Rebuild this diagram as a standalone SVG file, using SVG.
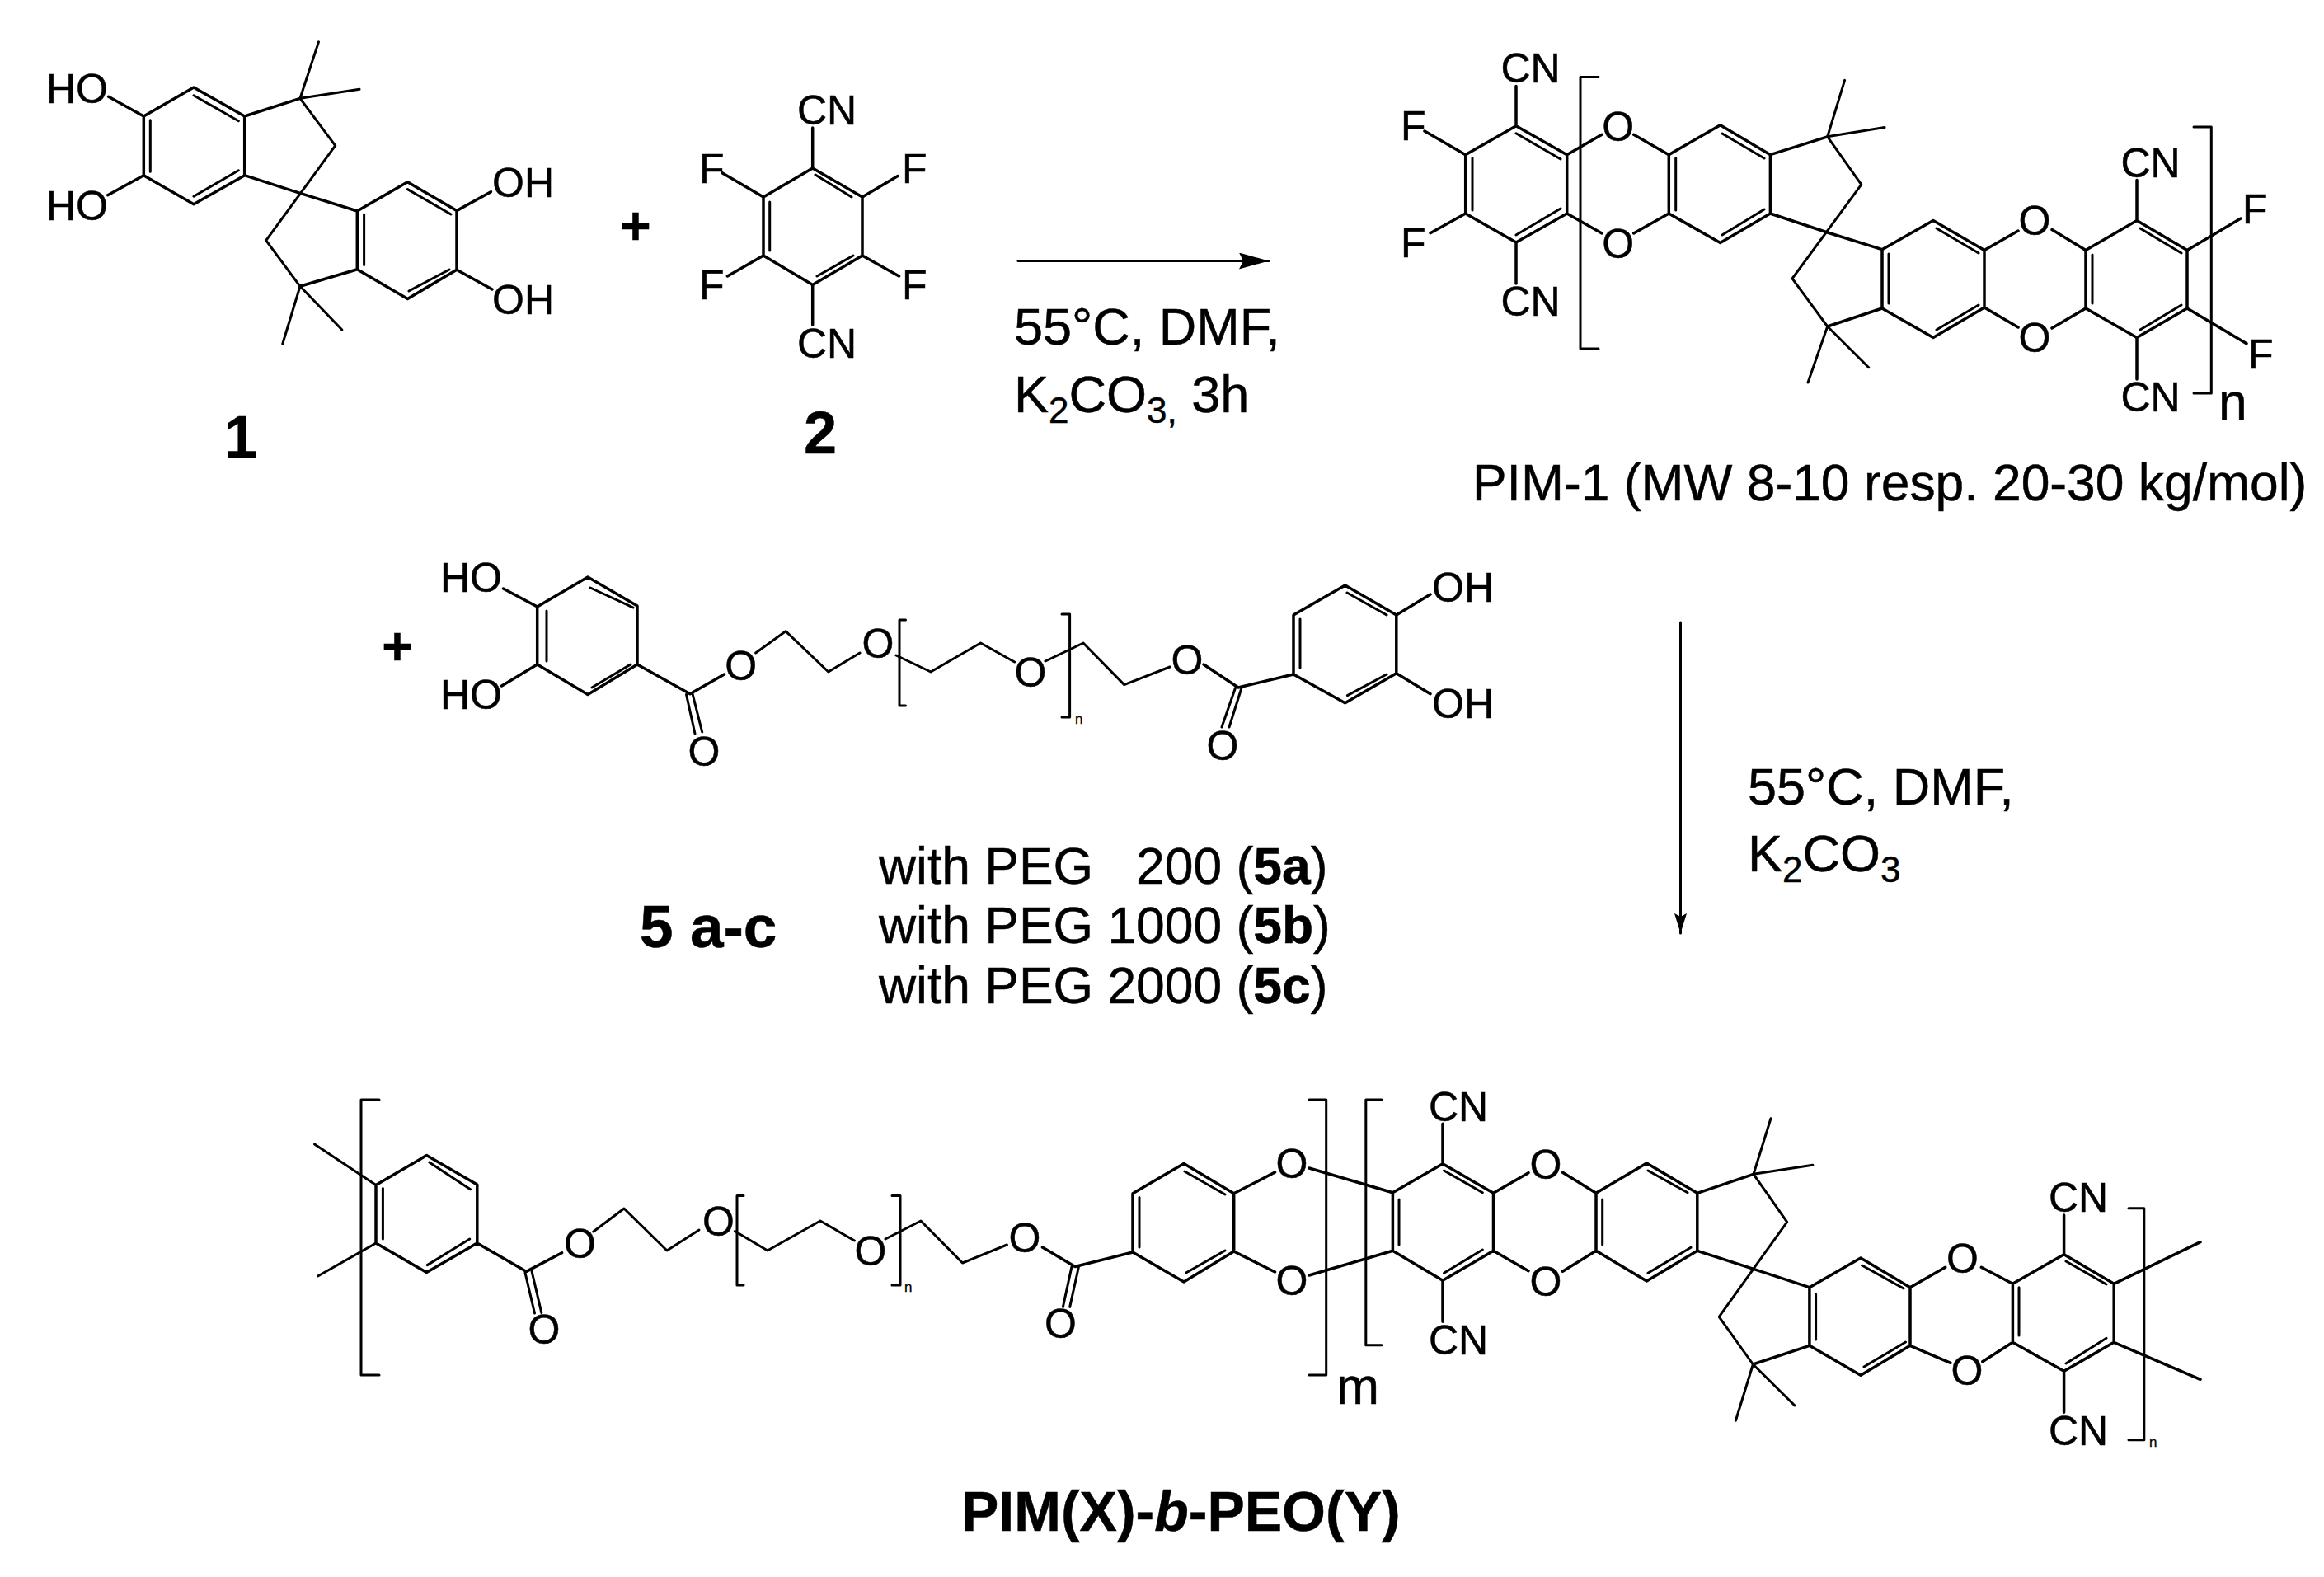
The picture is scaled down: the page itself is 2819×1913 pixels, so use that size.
<svg xmlns="http://www.w3.org/2000/svg" width="2819" height="1913" viewBox="0 0 2819 1913">
<style>
text{font-family:"Liberation Sans",Arial,sans-serif;fill:#000;stroke:#000;stroke-width:.5}
.a{font-size:50px}.o{font-size:50px;text-anchor:middle}.l{font-size:63px}.u{font-size:44px}.p{font-size:62.4px}.bd{font-weight:700}.s{font-size:17px;stroke-width:.3}
.b{fill:none;stroke:#000;stroke-width:3.5;stroke-linecap:round;stroke-linejoin:round}
.t{fill:none;stroke:#000;stroke-width:3;stroke-linecap:round;stroke-linejoin:round}
</style>
<defs>
<marker id="ah" markerUnits="userSpaceOnUse" markerWidth="40" markerHeight="24" refX="36" refY="10" orient="auto"><path d="M0 0L36 10L0 20L5 10Z" fill="#000"/></marker>
<marker id="av" markerUnits="userSpaceOnUse" markerWidth="28" markerHeight="18" refX="24" refY="7.5" orient="auto"><path d="M0 0L24 7.5L0 15L4 7.5Z" fill="#000"/></marker>
</defs>
<rect width="2819" height="1913" fill="#fff"/>
<g id="connectors">
<path d="M1235 316.5H1539" class="t" stroke-linecap="butt" marker-end="url(#ah)"/>
<path d="M2038.5 755V1132" class="t" stroke-linecap="butt" marker-end="url(#av)"/>
</g>
<g id="node-1">
<path class="b" d="M131.7 117.3L174.3 141L235 106L296.7 141V212.7L235 247.7L174.3 212.7V141M174.3 212.7L130.7 236.7M296.7 141L364 119.3M296.7 212.7L364 234.3L433.3 256L494.4 220.8L554 255.6V327.2L494.4 362.4L433.3 326.7V256M433.3 326.7L364 347.3M554 255.6L595.4 232.7M554 327.2L597 351"/>
<path class="t" d="M182.3 145.7V208.3M235 115.7L289.3 146.7M235 238.3L289.3 206.7M494.4 229.6L547 260M441.6 260V321.5M496 353L545 327"/>
<path class="t" d="M364 119.3L386.5 50.9M364 119.3L436 108.3M364 119.3L406.7 176.7L322.7 291.7L364 347.3L342.8 417M364 347.3L414.8 400"/>
<text class="a" x="56" y="125">HO</text><text class="a" x="56" y="266.7">HO</text>
<text class="a" x="597" y="239">OH</text><text class="a" x="597" y="381">OH</text>
<text x="272" y="555" font-size="72" class="bd">1</text>
</g>
<g id="plus-1"><text x="771" y="296" font-size="64" class="bd" text-anchor="middle">+</text></g>
<g id="node-2">
<path class="b" d="M985.7 155V204L1046 239V310L985.7 345.6L926 310V239L985.7 204M985.7 345.6V394M1046 239L1089 213.5M1046 310L1090.5 335M926 310L882.4 335M926 239L876 209.7"/>
<path class="t" d="M989 212L1033 239M933.7 245V304M991 335L1035 310"/>
<text class="a" x="967" y="151">CN</text><text class="a" x="967" y="434">CN</text>
<text class="a" x="848" y="222">F</text><text class="a" x="1094" y="222">F</text><text class="a" x="848" y="363">F</text><text class="a" x="1094" y="363">F</text>
<text x="975" y="550" font-size="72" class="bd">2</text>
</g>
<g id="conditions-1">
<text class="l" x="1230" y="418">55°C, DMF,</text>
<text class="l" x="1230" y="500">K<tspan class="u" dy="13">2</tspan><tspan dy="-13">CO</tspan><tspan class="u" dy="13">3,</tspan><tspan dy="-13"> 3h</tspan></text>
</g>
<g id="node-pim1">
<path class="b" d="M1839 104.5V152.7L1900.7 187.7V259L1839 294L1777.7 259V187.7L1839 152.7M1839 294V344M1777.7 187.7L1728 159M1777.7 259L1735 282.7M1900.7 187.7L1943 163.3M1900.7 259L1943 283M1981.7 163.3L2024.3 187.7M1981.7 283L2024.3 259M2024.3 187.7L2086.7 151.7L2147.4 187.7V259L2086.7 294.4L2024.3 259ZM2147.4 187.7L2216.7 165.8M2147.4 259L2216.7 282L2283 302.7L2345 267.4L2407 303.5V373L2345 409.6L2283 374V302.7M2283 374L2216.7 396M2407 303.5L2448 280M2489 278.6L2530 303.5M2407 373L2448 397M2489 398L2530 374M2530 303.5L2592 267.4L2653 303.5V374L2592 409.6L2530 374ZM2592 267.4V218.5M2592 409.6V460M2653 303.5L2718 265M2653 374L2725 416.7"/>
<path class="t" d="M1786 191.7V255M1839 161.7L1893 193M1839 285L1893 253M2032.7 191.7V255M2089 162L2140 192M2089 285L2140 254M2291 308V368M2349 277L2400 307M2349 400L2400 370M2538 309V368M2596 277L2646 307M2596 400L2646 370"/>
<path class="t" d="M2216.7 165.8L2237.6 97.4M2216.7 165.8L2286 154.6M2216.7 165.8L2257.8 223.9L2174 337.9L2216.7 396L2193 464M2216.7 396L2266.7 445.7"/>
<path class="t" d="M1939 93.5H1917V423H1939M2661 154H2682.3V477H2661"/>
<text class="a" x="1820.5" y="100">CN</text><text class="a" x="1820.5" y="383">CN</text>
<text class="a" x="1699" y="170">F</text><text class="a" x="1699" y="311.7">F</text>
<text class="o" x="1962.7" y="171">O</text><text class="o" x="1962.7" y="313">O</text>
<text class="o" x="2468" y="285">O</text><text class="o" x="2468" y="427">O</text>
<text class="a" x="2572.5" y="215">CN</text><text class="a" x="2572.5" y="499">CN</text>
<text class="a" x="2720" y="271">F</text><text class="a" x="2727" y="446.7">F</text>
<text class="p" x="2691" y="509">n</text>
</g>
<g id="label-pim1"><text class="p" x="1786" y="607">PIM-1 (MW 8-10 resp. 20-30 kg/mol)</text></g>
<g id="plus-2"><text x="482" y="806" font-size="64" class="bd" text-anchor="middle">+</text></g>
<g id="node-5">
<path class="b" d="M713 700L773 735V806L713 842.5L651.7 806V736ZM651.7 736L610.5 714M651.7 806L608.6 832M773 806L837 841.7L878.5 818M1502 834L1569 818V746L1631.6 710L1693.8 746V816.7L1631.6 852.7L1569 818M1693.8 746L1735 721M1693.8 816.7L1735 841.7M1460 806L1502 834"/>
<path class="t" d="M716 713L768 737M663 741V802M718 834L765 806M1577 751V810M1634 719L1682 746M1634.4 843.6L1682 818M832.5 842.5L843 890M840 841.7L851.7 888M1498.5 834.5L1482 882M1506 834.5L1491 882"/>
<path class="t" d="M916.7 792L953 765.7L1004.8 815L1043 792M1087 795L1129 815L1189.5 780L1230.6 803M1268 802L1314 780L1363.7 830.6L1419 809"/>
<path class="t" d="M1098.5 752H1091V856H1098.5M1288 745H1297.6V870H1288"/>
<text class="a" x="534" y="718">HO</text><text class="a" x="534" y="860">HO</text>
<text class="o" x="898.6" y="825">O</text><text class="o" x="854" y="929">O</text>
<text class="o" x="1065" y="798">O</text><text class="o" x="1250" y="833">O</text>
<text class="o" x="1440" y="818">O</text><text class="o" x="1483" y="922">O</text>
<text class="a" x="1737" y="730">OH</text><text class="a" x="1737" y="871">OH</text>
<text class="s" x="1304" y="878">n</text>
</g>
<g id="label-5">
<text x="776" y="1149" font-size="73" class="bd">5 a-c</text>
<text class="p" x="1066" y="1072" xml:space="preserve">with PEG   200 (<tspan class="bd">5a</tspan>)</text>
<text class="p" x="1066" y="1144">with PEG 1000 (<tspan class="bd">5b</tspan>)</text>
<text class="p" x="1066" y="1217">with PEG 2000 (<tspan class="bd">5c</tspan>)</text>
</g>
<g id="conditions-2">
<text class="l" x="2120" y="976">55°C, DMF,</text>
<text class="l" x="2120" y="1057">K<tspan class="u" dy="13">2</tspan><tspan dy="-13">CO</tspan><tspan class="u" dy="13">3</tspan></text>
</g>
<g id="node-block">
<path class="b" d="M456 1437.6L517.4 1401.6L578.8 1437V1508L517.4 1543.5L456 1508ZM578.8 1508L638.5 1542.4L681.6 1519.7M1264.5 1513L1304 1536.5L1374 1519V1447.8L1436 1411.4L1496.7 1447.8V1518L1436 1555L1374 1519M1496.7 1447.8L1546.5 1422M1496.7 1518L1546.5 1543M1588 1417L1689.4 1446.7M1588 1547L1689.4 1517.3M1750 1363.3V1411.7L1811.5 1447.3V1517.3L1750 1553.3L1689.4 1517.3V1446.7L1750 1411.7M1750 1553.3V1603.3M1811.5 1447.3L1854 1422.7M1811.5 1517.3L1854 1541.7M1895.5 1422.3L1936 1447.3M1895.5 1542.3L1936 1517.3M1936 1447.3L1997.4 1411L2058.8 1447.3V1517.3L1997.4 1554L1936 1517.3ZM2058.8 1447.3L2127 1424.3M2058.8 1517.3L2127 1539.3L2194.9 1561.7L2257 1526L2317 1561.7V1632.3L2257 1668.3L2194.9 1632.3V1561.7M2194.9 1632.3L2126.4 1655M2317 1561.7L2359.7 1537.3M2403.3 1537.3L2441.4 1557.3M2317 1632.3L2366 1653.3M2404.8 1651.7L2441.4 1628.3M2441.4 1557.3L2503.6 1521.7L2564.2 1557.3V1628.3L2503.6 1663.3L2441.4 1628.3ZM2503.6 1521.7V1474M2503.6 1663.3V1713.3M2564.2 1557.3L2669 1506.7M2564.2 1628.3L2669 1673.3"/>
<path class="t" d="M381.5 1388L456 1437.6M385.6 1548L456 1508M464.4 1441.5V1503M520.8 1410L570.5 1442.7M518.3 1534.6L569.7 1503M637 1544L648.5 1593M645 1542L656.8 1592.4M1300 1536.5L1289.4 1585.4M1308.5 1536.5L1297.7 1585.4M1382 1452.5V1513M1437 1421L1486 1449M1438.7 1544L1486 1517M1697 1455V1510M1751.6 1420L1798.3 1446.7M1751.6 1544.3L1798.3 1516M1943.7 1455V1510M1999 1420L2047 1446.7M1999 1544.3L2051 1513.3M2202.6 1570V1625M2258.6 1535L2309 1563M2261 1658L2311.5 1628M2449 1561.7V1620M2506 1530L2555 1558M2506 1654L2555 1623.3"/>
<path class="t" d="M719.8 1494L757 1466L809 1517L848 1492M891.4 1493.5L931 1517L995 1481L1036.5 1505M1074 1503L1117 1481L1167.5 1532L1221.4 1510"/>
<path class="t" d="M2127 1424.3L2148 1356.7M2127 1424.3L2198.8 1413.3M2127 1424.3L2167.7 1482.3L2085.2 1597.3L2126.4 1655L2105.4 1723.3M2126.4 1655L2177 1705"/>
<path class="t" d="M460 1334H438V1668H460M902 1450.5H894V1559H902M1082 1450.5H1092V1559H1082M1588 1334H1608.7V1668H1588M1676 1334H1656.8V1631.7H1676M2582 1465.7H2600.8V1746.7H2582"/>
<text class="o" x="703.5" y="1526">O</text><text class="o" x="660" y="1630">O</text>
<text class="o" x="871.5" y="1499">O</text><text class="o" x="1056" y="1535">O</text>
<text class="o" x="1243" y="1519">O</text><text class="o" x="1286.5" y="1623">O</text>
<text class="o" x="1567" y="1429">O</text><text class="o" x="1567" y="1571">O</text>
<text class="s" x="1097" y="1567">n</text>
<text class="p" x="1621" y="1703">m</text>
<text class="a" x="1733" y="1360">CN</text><text class="a" x="1733" y="1643">CN</text>
<text class="o" x="1875" y="1430">O</text><text class="o" x="1875" y="1572">O</text>
<text class="o" x="2380.5" y="1544">O</text><text class="o" x="2386" y="1680">O</text>
<text class="a" x="2485" y="1470">CN</text><text class="a" x="2485" y="1753">CN</text>
<text class="s" x="2607" y="1755">n</text>
</g>
<g id="label-block"><text x="1166" y="1857" font-size="68" class="bd">PIM(X)-<tspan font-style="italic">b</tspan>-PEO(Y)</text></g>
</svg>
